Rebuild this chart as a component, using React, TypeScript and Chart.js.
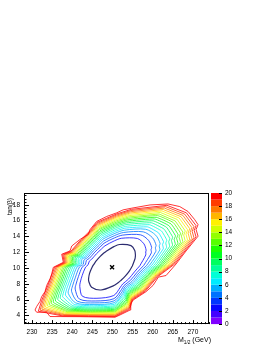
import React, { useEffect, useRef } from "react";
import { Chart, registerables } from "chart.js";

Chart.register(...registerables);

// ---------- axis ranges & labels ----------
const xMin = 228;
const xMax = 274;
const yMin = 2.9;
const yMax = 19.5;
const zMin = 0;
const zMax = 20;
const xTickStep = 5;
const yTickStep = 2;
const zTickStep = 2;

const xTitleMain = "M";
const xTitleSub = "1/2";
const xTitleUnit = " (GeV)";
const yTitle = "tan(\u03b2)";

// ---------- best-fit point ----------
const bestFit = [[249.9, 10.1]];

// ---------- contour levels (delta chi2) ----------
const contourLevels = [1, 2, 3, 4, 5, 6, 7, 8, 9, 10, 11, 12, 13, 14, 15, 16, 17, 18, 19, 20];

// each contour: [M1/2, tan(beta)] points
const c01 = [[254.94,10.25],[255.60,11.17],[255.68,11.44],[255.71,11.59],[255.54,12.23],[254.61,12.84],[251.76,12.98],[250.33,12.71],[248.54,12.17],[247.85,11.90],[246.89,11.45],[245.95,10.90],[245.64,10.68],[245.22,10.36],[244.96,10.12],[244.30,9.33],[244.07,8.71],[244.08,8.35],[244.81,7.57],[247.14,7.22],[250.17,7.74],[251.49,8.18],[252.03,8.41],[253.12,8.94],[254.23,9.65]];
const c02 = [[256.80,10.29],[258.28,11.66],[258.26,12.03],[258.37,12.26],[257.81,13.07],[256.18,13.74],[252.28,13.77],[250.45,13.44],[248.12,12.81],[247.26,12.41],[246.04,11.82],[244.84,11.12],[244.23,10.86],[243.95,10.42],[243.31,10.11],[242.48,9.07],[242.00,8.21],[241.87,7.67],[242.54,6.42],[246.15,6.17],[250.31,6.52],[251.98,7.58],[252.56,7.99],[254.01,8.61],[255.46,9.51]];
const c03 = [[257.76,10.32],[259.66,11.91],[259.59,12.33],[259.74,12.60],[258.97,13.50],[257.00,14.20],[252.54,14.17],[250.52,13.82],[247.90,13.14],[246.96,12.67],[245.61,12.01],[244.26,11.23],[243.50,10.96],[243.29,10.45],[242.46,10.11],[241.54,8.93],[240.94,7.95],[240.73,7.33],[241.81,6.06],[245.83,5.83],[250.36,6.12],[252.24,7.27],[252.83,7.77],[254.47,8.44],[256.09,9.44]];
const c04 = [[258.53,10.34],[260.77,12.11],[260.67,12.57],[260.85,12.88],[259.92,13.85],[257.65,14.58],[252.76,14.50],[250.57,14.12],[247.73,13.40],[246.72,12.88],[245.25,12.17],[243.80,11.32],[242.91,11.03],[242.76,10.48],[241.77,10.11],[240.79,8.83],[240.08,7.74],[239.82,7.05],[241.29,5.79],[245.60,5.59],[250.39,5.84],[252.44,7.02],[253.05,7.59],[254.85,8.30],[256.60,9.39]];
const c05 = [[259.21,10.35],[261.76,12.29],[261.62,12.79],[261.83,13.12],[260.75,14.16],[258.23,14.91],[252.95,14.79],[250.62,14.39],[247.57,13.64],[246.50,13.07],[244.94,12.30],[243.39,11.40],[242.39,11.10],[242.30,10.50],[241.16,10.11],[240.11,8.73],[239.32,7.55],[239.00,6.80],[240.87,5.58],[245.41,5.39],[250.42,5.61],[252.62,6.80],[253.24,7.44],[255.18,8.18],[257.05,9.34]];
const c06 = [[259.82,10.37],[262.64,12.45],[262.46,12.98],[262.70,13.34],[261.49,14.44],[258.75,15.21],[253.12,15.05],[250.66,14.63],[247.44,13.84],[246.31,13.23],[244.66,12.42],[243.03,11.47],[241.93,11.16],[241.88,10.52],[240.62,10.11],[239.52,8.64],[238.64,7.39],[238.28,6.58],[240.50,5.39],[245.25,5.22],[250.45,5.41],[252.78,6.61],[253.41,7.30],[255.47,8.07],[257.45,9.29]];
const c07 = [[260.39,10.38],[263.46,12.60],[263.25,13.16],[263.51,13.54],[262.18,14.69],[259.22,15.48],[253.28,15.28],[250.70,14.85],[247.31,14.04],[246.13,13.39],[244.41,12.54],[242.69,11.53],[241.50,11.22],[241.49,10.54],[240.12,10.11],[238.96,8.56],[238.01,7.24],[237.61,6.37],[240.17,5.22],[245.11,5.07],[250.47,5.23],[252.93,6.43],[253.57,7.17],[255.74,7.97],[257.83,9.25]];
const c08 = [[260.91,10.39],[264.21,12.74],[263.98,13.32],[264.26,13.73],[262.82,14.93],[259.67,15.73],[253.42,15.51],[250.73,15.06],[247.19,14.22],[245.97,13.53],[244.17,12.64],[242.38,11.59],[241.11,11.27],[241.14,10.56],[239.65,10.11],[238.45,8.49],[237.43,7.10],[236.99,6.18],[239.88,5.08],[244.98,4.94],[250.48,5.08],[253.07,6.26],[253.72,7.05],[255.99,7.88],[258.17,9.21]];
const c09 = [[261.41,10.40],[264.93,12.87],[264.67,13.48],[264.97,13.91],[263.43,15.16],[260.09,15.98],[253.56,15.72],[250.76,15.26],[247.08,14.39],[245.81,13.67],[243.94,12.74],[242.08,11.65],[240.73,11.32],[240.79,10.57],[239.21,10.10],[237.96,8.42],[236.88,6.96],[236.39,6.00],[239.61,4.94],[244.86,4.81],[250.50,4.93],[253.20,6.10],[253.86,6.93],[256.23,7.79],[258.50,9.17]];
const c10 = [[261.89,10.42],[265.62,13.00],[265.34,13.63],[265.66,14.08],[264.01,15.37],[260.50,16.21],[253.70,15.92],[250.80,15.44],[246.97,14.55],[245.66,13.80],[243.72,12.84],[241.79,11.71],[240.36,11.36],[240.47,10.59],[238.78,10.10],[237.49,8.35],[236.34,6.83],[235.82,5.83],[239.35,4.81],[244.75,4.69],[250.52,4.79],[253.33,5.94],[254.00,6.83],[256.46,7.71],[258.82,9.14]];
const c11 = [[262.33,10.43],[266.26,13.11],[265.95,13.77],[266.30,14.24],[264.56,15.58],[260.87,16.42],[253.82,16.11],[250.83,15.62],[246.87,14.71],[245.52,13.92],[243.52,12.93],[241.52,11.76],[240.02,11.41],[240.16,10.60],[238.38,10.10],[237.06,8.29],[235.85,6.71],[235.29,5.66],[239.12,4.69],[244.65,4.58],[250.53,4.67],[253.45,5.80],[254.12,6.72],[256.68,7.63],[259.11,9.11]];
const c12 = [[262.77,10.44],[266.89,13.23],[266.56,13.91],[266.92,14.40],[265.09,15.77],[261.24,16.63],[253.94,16.29],[250.86,15.79],[246.77,14.86],[245.38,14.04],[243.32,13.01],[241.26,11.81],[239.69,11.45],[239.86,10.62],[238.00,10.10],[236.63,8.23],[235.37,6.59],[234.78,5.51],[238.90,4.58],[244.55,4.48],[250.55,4.55],[253.56,5.66],[254.25,6.62],[256.89,7.55],[259.40,9.07]];
const c13 = [[263.19,10.45],[267.50,13.34],[267.15,14.04],[267.53,14.55],[265.60,15.96],[261.60,16.84],[254.06,16.47],[250.88,15.96],[246.67,15.00],[245.25,14.15],[243.13,13.10],[241.01,11.86],[239.37,11.49],[239.57,10.63],[237.62,10.10],[236.22,8.17],[234.89,6.48],[234.27,5.35],[238.69,4.47],[244.46,4.38],[250.56,4.44],[253.68,5.52],[254.37,6.53],[257.09,7.48],[259.68,9.04]];
const c14 = [[263.59,10.46],[268.08,13.45],[267.71,14.17],[268.10,14.69],[266.10,16.15],[261.94,17.03],[254.17,16.64],[250.91,16.12],[246.58,15.14],[245.12,14.26],[242.94,13.18],[240.77,11.90],[239.07,11.53],[239.30,10.65],[237.26,10.10],[235.82,8.11],[234.45,6.37],[233.80,5.21],[238.49,4.37],[244.37,4.29],[250.57,4.33],[253.78,5.39],[254.48,6.44],[257.28,7.40],[259.95,9.01]];
const c15 = [[263.99,10.47],[268.66,13.55],[268.27,14.30],[268.68,14.84],[266.59,16.33],[262.28,17.23],[254.28,16.81],[250.94,16.28],[246.49,15.28],[244.99,14.37],[242.76,13.26],[240.53,11.95],[238.76,11.57],[239.02,10.66],[236.90,10.10],[235.43,8.06],[234.00,6.26],[233.32,5.06],[238.30,4.28],[244.29,4.20],[250.59,4.23],[253.89,5.26],[254.60,6.34],[257.48,7.33],[260.21,8.98]];
const c16 = [[264.38,10.48],[269.21,13.65],[268.80,14.42],[269.22,14.98],[267.05,16.50],[262.60,17.41],[254.39,16.97],[250.96,16.43],[246.40,15.41],[244.87,14.48],[242.58,13.33],[240.30,11.99],[238.47,11.61],[238.76,10.67],[236.57,10.10],[235.06,8.00],[233.58,6.16],[232.87,4.92],[238.11,4.18],[244.21,4.12],[250.60,4.13],[253.99,5.14],[254.70,6.26],[257.66,7.26],[260.46,8.96]];
const c17 = [[264.74,10.48],[269.74,13.75],[269.31,14.53],[269.75,15.11],[267.50,16.67],[262.92,17.59],[254.49,17.13],[250.99,16.57],[246.32,15.53],[244.76,14.58],[242.42,13.41],[240.08,12.04],[238.19,11.65],[238.51,10.68],[236.24,10.10],[234.69,7.95],[233.16,6.06],[232.43,4.79],[237.94,4.10],[244.13,4.04],[250.61,4.03],[254.09,5.02],[254.81,6.17],[257.84,7.20],[260.71,8.93]];
const c18 = [[265.10,10.49],[270.26,13.84],[269.81,14.65],[270.27,15.24],[267.94,16.83],[263.22,17.77],[254.59,17.28],[251.01,16.71],[246.24,15.66],[244.64,14.68],[242.25,13.48],[239.86,12.08],[237.92,11.68],[238.26,10.70],[235.92,10.09],[234.34,7.90],[232.77,5.96],[232.00,4.66],[237.77,4.01],[244.06,3.96],[250.62,3.94],[254.18,4.91],[254.91,6.09],[258.01,7.14],[260.94,8.90]];
const c19 = [[265.46,10.50],[270.78,13.94],[270.31,14.76],[270.78,15.37],[268.38,16.99],[263.53,17.94],[254.69,17.43],[251.04,16.85],[246.16,15.78],[244.53,14.77],[242.09,13.55],[239.65,12.12],[237.64,11.72],[238.02,10.71],[235.60,10.09],[233.99,7.85],[232.37,5.86],[231.57,4.53],[237.60,3.93],[243.99,3.88],[250.63,3.85],[254.28,4.79],[255.01,6.01],[258.18,7.07],[261.18,8.88]];
const c20 = [[265.81,10.51],[268.30,12.16],[271.28,14.03],[270.79,14.87],[271.28,15.49],[270.46,16.12],[268.80,17.15],[266.73,17.78],[263.82,18.11],[259.34,17.99],[254.79,17.58],[252.63,17.36],[251.06,16.99],[248.57,16.53],[246.08,15.90],[244.42,14.87],[244.00,14.25],[241.93,13.62],[239.87,12.79],[239.44,12.16],[237.38,11.75],[237.78,10.72],[235.29,10.09],[234.89,9.26],[234.47,8.64],[233.65,7.80],[233.22,7.01],[232.40,6.39],[231.98,5.77],[231.16,5.14],[230.74,4.68],[231.16,4.40],[233.65,4.40],[234.47,3.86],[241.93,3.84],[250.64,3.77],[251.88,4.06],[254.37,4.68],[254.54,5.52],[255.11,5.93],[258.35,7.01],[260.09,7.80],[261.41,8.85],[263.32,9.05]];

const contours = [c01, c02, c03, c04, c05, c06, c07, c08, c09, c10, c11, c12, c13, c14, c15, c16, c17, c18, c19, c20];

// ---------- colour palette (20 bands, 0..20) ----------
const paletteColors = [
  "#8000ff", "#4300ff", "#0707ff", "#0036ff", "#0072ff",
  "#00afff", "#00ebff", "#00ffd7", "#00ff9a", "#00ff5e",
  "#00ff22", "#1bff00", "#57ff00", "#93ff00", "#d0ff00",
  "#fff100", "#ffb500", "#ff7900", "#ff3c00", "#ff0000",
];
const innerContourColor = "#2c2c70";

const FONT = "'Liberation Sans', Arial, Helvetica, sans-serif";

const rootDecorations = {
  id: "rootDecorations",
  afterDraw(chart: any) {
    const { ctx, chartArea: a, scales } = chart;
    const xs = scales.x;
    const ys = scales.y;
    const zs = scales.z;
    ctx.save();

    // palette bar
    const pLeft = a.right + 2;
    const pW = 11;
    for (let i = 0; i < paletteColors.length; i++) {
      const y0 = zs.getPixelForValue(zMin + i);
      const y1 = zs.getPixelForValue(zMin + i + 1);
      ctx.fillStyle = paletteColors[i];
      ctx.fillRect(pLeft, y1, pW, y0 - y1);
    }
    ctx.strokeStyle = "#000";
    ctx.lineWidth = 1;
    ctx.beginPath();
    for (let v = zMin; v <= zMax; v += zTickStep) {
      const py = Math.round(zs.getPixelForValue(v)) + 0.5;
      ctx.moveTo(pLeft + pW, py);
      ctx.lineTo(pLeft + pW - 3, py);
    }
    ctx.stroke();

    // frame
    ctx.strokeStyle = "#000";
    ctx.lineWidth = 1;
    ctx.strokeRect(Math.round(a.left) + 0.5, Math.round(a.top) + 0.5, Math.round(a.right - a.left) - 1, Math.round(a.bottom - a.top) - 1);

    // x ticks (inside)
    ctx.beginPath();
    for (let v = Math.ceil(xMin); v <= xMax; v += 1) {
      const px = Math.round(xs.getPixelForValue(v)) + 0.5;
      const len = v % xTickStep === 0 ? 4 : 2;
      ctx.moveTo(px, a.bottom);
      ctx.lineTo(px, a.bottom - len);
    }
    // y ticks (inside), minor every 0.4
    for (let i = 0; i < 60; i++) {
      const v = 2.8 + 0.4 * i;
      if (v < yMin || v > yMax) continue;
      const py = Math.round(ys.getPixelForValue(v)) + 0.5;
      const isMajor = Math.abs(v / yTickStep - Math.round(v / yTickStep)) < 1e-6;
      const len = isMajor ? 5 : 2.5;
      ctx.moveTo(a.left, py);
      ctx.lineTo(a.left + len, py);
    }
    ctx.stroke();

    // x title with subscript
    ctx.fillStyle = "#000";
    ctx.textBaseline = "alphabetic";
    ctx.textAlign = "left";
    const mainFont = "7px " + FONT;
    const subFont = "4.8px " + FONT;
    ctx.font = mainFont;
    const wM = ctx.measureText(xTitleMain).width;
    const wU = ctx.measureText(xTitleUnit).width;
    ctx.font = subFont;
    const wS = ctx.measureText(xTitleSub).width;
    let tx = a.right + 2 - (wM + wS + wU);
    const base = 342;
    ctx.font = mainFont;
    ctx.fillText(xTitleMain, tx, base);
    tx += wM;
    ctx.font = subFont;
    ctx.fillText(xTitleSub, tx, base + 1.5);
    tx += wS;
    ctx.font = mainFont;
    ctx.fillText(xTitleUnit, tx, base);

    // y title, rotated, aligned to top
    ctx.translate(10, a.top + 5);
    ctx.rotate(-Math.PI / 2);
    ctx.textAlign = "right";
    ctx.textBaseline = "middle";
    ctx.font = "6.5px " + FONT;
    ctx.fillText(yTitle, 0, 0);

    ctx.restore();
  },
};

export default function App() {
  const ref = useRef<HTMLCanvasElement>(null);

  useEffect(() => {
    const canvas = ref.current;
    if (!canvas) return;
    Chart.defaults.font.family = FONT;
    Chart.defaults.color = "#000";

    const datasets: any[] = contours.map((pts, i) => {
      const lvl = contourLevels[i];
      const closed = [...pts, pts[0]];
      return {
        label: "level " + lvl,
        data: closed.map(([x, y]) => ({ x, y })),
        showLine: true,
        pointRadius: 0,
        pointHoverRadius: 0,
        borderWidth: lvl === 1 ? 1.2 : 0.8,
        borderColor: lvl === 1 ? innerContourColor : paletteColors[Math.min(lvl, paletteColors.length - 1)],
        tension: lvl <= 5 ? 0.3 : lvl <= 12 ? 0.12 : 0,
        fill: false,
        order: 100 - lvl,
      };
    });
    datasets.push({
      label: "best fit",
      data: bestFit.map(([x, y]) => ({ x, y })),
      showLine: false,
      pointStyle: "crossRot",
      pointRadius: 2.8,
      pointHoverRadius: 2.8,
      borderColor: "#000",
      backgroundColor: "#000",
      borderWidth: 1.4,
      order: 0,
    });

    const chart = new Chart(canvas, {
      type: "scatter",
      data: { datasets },
      options: {
        responsive: false,
        animation: false,
        devicePixelRatio: 1,
        events: [],
        layout: { padding: { top: 193, right: 27, bottom: 0, left: 0 } },
        plugins: { legend: { display: false }, tooltip: { enabled: false } },
        scales: {
          x: {
            type: "linear",
            position: "bottom",
            min: xMin,
            max: xMax,
            grid: { display: false, drawTicks: false },
            border: { display: false },
            ticks: { stepSize: xTickStep, includeBounds: false, autoSkip: false, maxRotation: 0, padding: 4, color: "#000", font: { size: 6.5 } },
            afterFit: (s: any) => { s.height = 18; },
          },
          y: {
            type: "linear",
            position: "left",
            min: yMin,
            max: yMax,
            grid: { display: false, drawTicks: false },
            border: { display: false },
            ticks: { stepSize: yTickStep, includeBounds: false, autoSkip: false, padding: 4, color: "#000", font: { size: 6.5 } },
            afterFit: (s: any) => { s.width = 24; },
          },
          z: {
            type: "linear",
            axis: "y",
            position: "right",
            min: zMin,
            max: zMax,
            grid: { display: false, drawTicks: false },
            border: { display: false },
            ticks: { stepSize: zTickStep, includeBounds: false, autoSkip: false, padding: 16, color: "#000", font: { size: 6.5 } },
            afterFit: (s: any) => { s.width = 30; },
          },
        },
      } as any,
      plugins: [rootDecorations],
    });
    return () => chart.destroy();
  }, []);

  return (
    <canvas
      ref={ref}
      width={266}
      height={344}
      style={{ position: "absolute", left: 0, top: 0, display: "block", width: 266, height: 344 }}
    />
  );
}
